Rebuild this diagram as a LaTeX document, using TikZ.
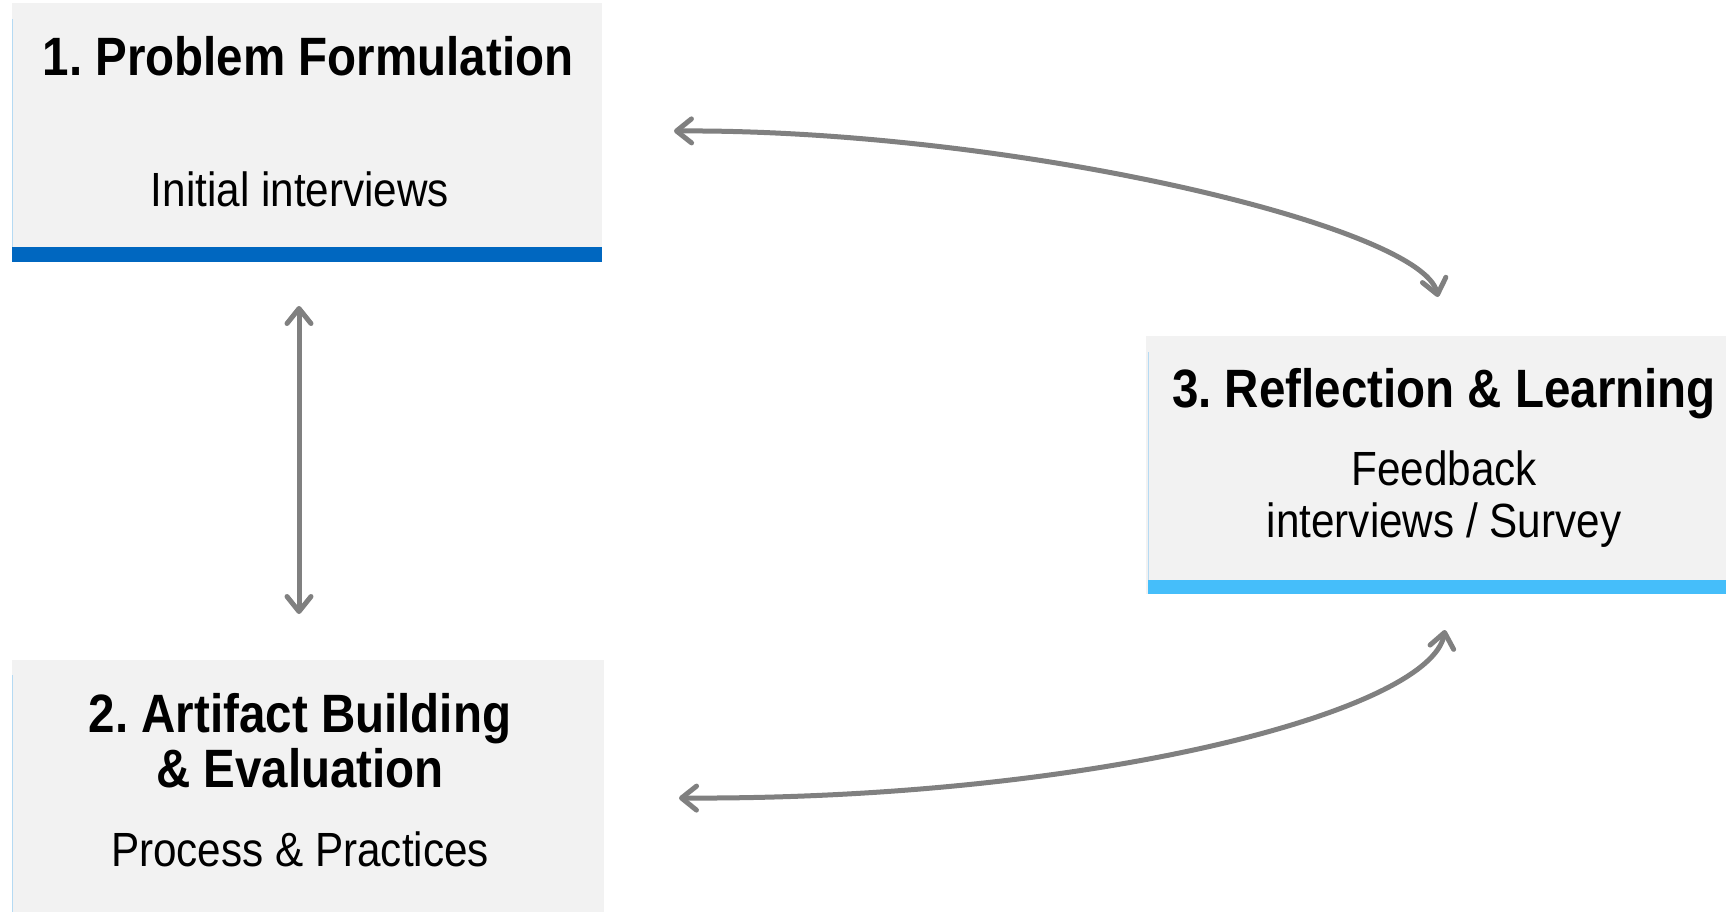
\documentclass[tikz,border=0pt]{standalone}
\usepackage{fontspec}
\setmainfont{Liberation Sans}[FakeStretch=0.88]
\usetikzlibrary{arrows.meta}
\frenchspacing
\definecolor{boxgray}{HTML}{F2F2F2}
\definecolor{barA}{HTML}{0067C0}
\definecolor{barB}{HTML}{1E88E5}
\definecolor{barC}{HTML}{45BEFA}
\definecolor{edgeblue}{HTML}{B5DAF3}
\definecolor{arrgray}{HTML}{808080}
\begin{document}
\begin{tikzpicture}[x=1pt,y=-1pt,
  panel/.style={fill=boxgray, draw=none, inner sep=0pt, outer sep=0pt, rectangle},
  ttl/.style={font=\fontsize{54}{56}\selectfont\bfseries, inner sep=0pt, anchor=base},
  sub/.style={font=\fontsize{48}{52}\selectfont, inner sep=0pt, anchor=base},
  mytip/.tip={Straight Barb[length=15pt,width=24pt,line width=5pt,round]},
  conn/.style={draw=arrgray, line width=5pt, line cap=round, {mytip}-{mytip}}
]
\useasboundingbox (0,0) rectangle (1726,911);
% boxes
\node[panel, minimum width=590pt, minimum height=259pt] (box1) at (307,132.5) {};
\node[panel, minimum width=592pt, minimum height=260pt] (box2) at (308,790) {};
\node[panel, minimum width=600pt, minimum height=258pt] (box3) at (1446,465) {};
% bars
\fill[barA] (box1.south west) rectangle ([yshift=15pt]box1.south east);
\fill[barB] ([yshift=-9pt]box2.south west) rectangle ([yshift=7pt]box2.south east);
\fill[barC] (1148,580) rectangle (1746,594);
% faint left edges
\draw[edgeblue, line width=1pt] ([yshift=-16pt]box1.north west) -- ([yshift=15pt]box1.south west);
\draw[edgeblue, line width=1pt] ([yshift=-15pt]box2.north west) -- ([yshift=7pt]box2.south west);
\draw[edgeblue, line width=1pt] (1148,352) -- (1148,580);
% texts
\node[ttl] (t1) at (308,75) {1. Problem Formulation};
\node[sub] (s1) at (300,206) {Initial interviews};
\node[ttl] (t2a) at (300,732) {2. Artifact Building};
\node[ttl] (t2b) at (300,787) {\&\ Evaluation};
\node[sub] (s2) at (300,866) {Process \& Practices};
\node[ttl] (t3) at (1444,407) {3. Reflection \& Learning};
\node[sub] (s3a) at (1444,485) {Feedback};
\node[sub] (s3b) at (1444,537) {interviews / Survey};
% connector ends
\coordinate (a1) at (299,306);
\coordinate (a2) at (299,614);
\coordinate (b1) at (674,131);
\coordinate (b2) at (1438,297);
\coordinate (c1) at (679,798);
\coordinate (c2) at (1445,630);
\draw[conn] (a1) -- (a2);
\draw[conn] (b1) .. controls (1010,129) and (1422,226) .. (b2);
\draw[conn] (c1) .. controls (1090,800) and (1430,712) .. (c2);
\end{tikzpicture}
\end{document}
